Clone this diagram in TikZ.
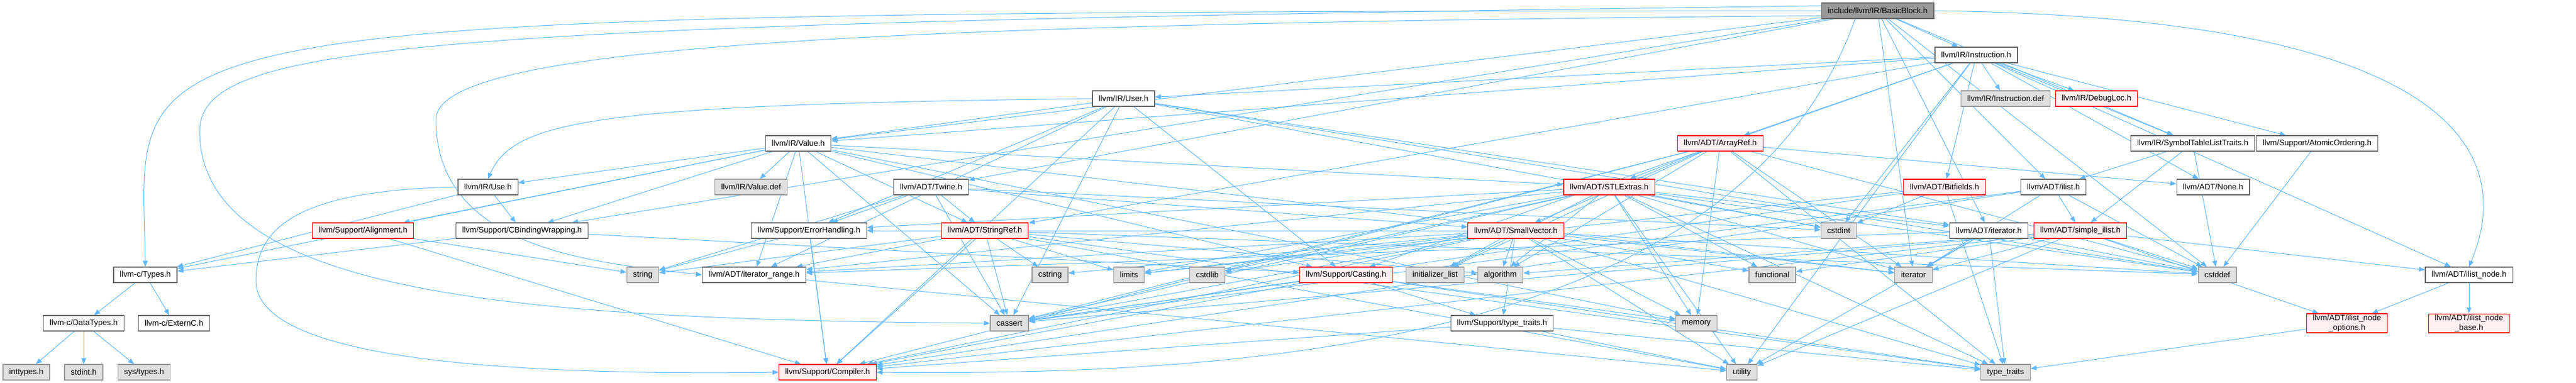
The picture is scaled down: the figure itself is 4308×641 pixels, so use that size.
\documentclass[tikz,border=0pt]{standalone}
\usepackage{fontspec}
\setmainfont{Liberation Sans}
\usetikzlibrary{backgrounds}
\usetikzlibrary{arrows.meta}

\definecolor{edgeblue}{HTML}{63B8FF}
\definecolor{boxgrey}{HTML}{666666}
\definecolor{sysgrey}{HTML}{999999}
\definecolor{sysfill}{HTML}{E0E0E0}
\definecolor{rootfill}{HTML}{999999}
\definecolor{truncfill}{HTML}{FFF0F0}

\begin{document}
\begin{tikzpicture}[x=0.25mm,y=-0.25mm,
		file/.style={draw=boxgrey,fill=white,rectangle,line width=0.3mm,minimum height=6.5mm,inner xsep=2.6mm,inner ysep=0.5mm,align=center,font=\fontsize{9.5}{11}\selectfont},
		sysfile/.style={file,draw=sysgrey,fill=sysfill},
		trunc/.style={file,draw=red,fill=truncfill},
		rootfile/.style={file,fill=rootfill},
		dep/.style={color=edgeblue,line width=0.25mm,-{Triangle[length=2.5mm,width=2mm]}}]
		\useasboundingbox (0,0) rectangle (4308,641);
		% top rows
		\node[rootfile] at (3140,18) (root) {include/llvm/IR/BasicBlock.h};
		\node[file] at (3305,92) (instr) {llvm/IR/Instruction.h};
		\node[file] at (1879,165) (user) {llvm/IR/User.h};
		\node[sysfile] at (3354,165) (instrdef) {llvm/IR/Instruction.def};
		\node[trunc] at (3506,165) (debugloc) {llvm/IR/DebugLoc.h};
		\node[file] at (1335,240) (value) {llvm/IR/Value.h};
		\node[trunc] at (2877,240) (arrayref) {llvm/ADT/ArrayRef.h};
		\node[file] at (3667,240) (symtab) {llvm/IR/SymbolTableListTraits.h};
		\node[file] at (3875,240) (atomic) {llvm/Support/AtomicOrdering.h};
		% middle rows
		\node[file] at (816,313) (use) {llvm/IR/Use.h};
		\node[sysfile] at (1256,313) (valuedef) {llvm/IR/Value.def};
		\node[file] at (1557,313) (twine) {llvm/ADT/Twine.h};
		\node[trunc] at (2691,313) (stlextras) {llvm/ADT/STLExtras.h};
		\node[trunc] at (3252,313) (bitfields) {llvm/ADT/Bitfields.h};
		\node[file] at (3434,313) (ilist) {llvm/ADT/ilist.h};
		\node[file] at (3701,313) (none) {llvm/ADT/None.h};
		\node[trunc] at (607,386) (align) {llvm/Support/Alignment.h};
		\node[file] at (873,386) (cbind) {llvm/Support/CBindingWrapping.h};
		\node[file] at (1353,386) (errh) {llvm/Support/ErrorHandling.h};
		\node[trunc] at (1647,386) (strref) {llvm/ADT/StringRef.h};
		\node[trunc] at (2535,386) (smallvec) {llvm/ADT/SmallVector.h};
		\node[sysfile] at (3075,386) (cstdint) {cstdint};
		\node[file] at (3326,386) (iterh) {llvm/ADT/iterator.h};
		\node[trunc] at (3479,386) (silist) {llvm/ADT/simple\_ilist.h};
		% lower rows
		\node[file] at (243,460) (ctypes) {llvm-c/Types.h};
		\node[sysfile] at (1075,460) (string) {string};
		\node[file] at (1261,460) (itrange) {llvm/ADT/iterator\_range.h};
		\node[sysfile] at (1756,460) (cstring) {cstring};
		\node[sysfile] at (1888,460) (limits) {limits};
		\node[sysfile] at (2019,460) (cstdlib) {cstdlib};
		\node[trunc] at (2251,460) (casting) {llvm/Support/Casting.h};
		\node[sysfile] at (2400,460) (initlist) {initializer\_list};
		\node[sysfile] at (2509,460) (algorithm) {algorithm};
		\node[sysfile] at (2964,460) (functional) {functional};
		\node[sysfile] at (3200,460) (iterator) {iterator};
		\node[sysfile] at (3708,460) (cstddef) {cstddef};
		\node[file] at (4129,460) (ilistnode) {llvm/ADT/ilist\_node.h};
		\node[file] at (140,541) (datatypes) {llvm-c/DataTypes.h};
		\node[file] at (291,541) (externc) {llvm-c/ExternC.h};
		\node[sysfile] at (1688,541) (cassert) {cassert};
		\node[file] at (2512,541) (typetraitsh) {llvm/Support/type\_traits.h};
		\node[sysfile] at (2837,541) (memory) {memory};
		\node[trunc] at (3925,541) (ilnopts) {llvm/ADT/ilist\_node\\\_options.h};
		\node[trunc] at (4129,541) (ilnbase) {llvm/ADT/ilist\_node\\\_base.h};
		\node[sysfile] at (44,623) (inttypes) {inttypes.h};
		\node[sysfile] at (140,623) (stdinth) {stdint.h};
		\node[sysfile] at (241,623) (systypes) {sys/types.h};
		\node[trunc] at (1384,623) (compiler) {llvm/Support/Compiler.h};
		\node[sysfile] at (2913,623) (utility) {utility};
		\node[sysfile] at (3354,623) (typetraits) {type\_traits};
		\begin{scope}[on background layer]
			% long curves
			\draw[dep] (root.west) .. controls (100,20) and (238,35) .. (ctypes.north);
			\draw[dep] (root.175) .. controls (700,40) and (334,70) .. (334,220) .. controls (334,500) and (900,535) .. (cassert.west);
			\draw[dep] (root.185) .. controls (1400,40) and (729,80) .. (729,200) .. controls (729,420) and (1000,440) .. (itrange.west);
			\draw[dep] (use.west) .. controls (500,318) and (428,380) .. (428,470) .. controls (428,610) and (900,628) .. (compiler.west);
			\draw[dep] (root.200) .. controls (2900,600) and (2000,628) .. (compiler.east);
			\draw[dep] (root.east) .. controls (4190,30) and (4190,300) .. (ilistnode.north);
			\draw[dep] (user.west) .. controls (1000,175) and (860,200) .. (use.north);
			\path[dep] (root) edge (twine) edge (ilist) edge (iterh) edge (instr) edge (symtab)
				edge (value) edge (cbind) edge (cstddef) edge (iterator);
			\path[dep] (instr) edge (arrayref) edge (bitfields) edge (none) edge (strref) edge (ilistnode)
				edge (debugloc) edge (symtab) edge (user) edge (value) edge (atomic) edge (casting)
				edge (cstdint) edge (utility) edge (instrdef);
			\path[dep] (user) edge (iterh) edge (itrange) edge (value) edge (casting) edge (compiler)
				edge (errh) edge (cassert) edge (cstddef) edge (cstdint);
			\path[dep] (value) edge (ctypes) edge (stlextras) edge (strref) edge (itrange) edge (use)
				edge (align) edge (cbind) edge (casting) edge (cassert) edge (iterator) edge (memory)
				edge (valuedef) edge (compiler);
			\path[dep] (use) edge (ctypes) edge (cbind);
			\path[dep] (cbind) edge (ctypes) edge (casting);
			\path[dep] (align) edge (string) edge (compiler);
			\path[dep] (twine) edge (smallvec) edge (strref) edge (errh) edge (cassert) edge (cstdint) edge (string);
			\path[dep] (errh) edge (compiler) edge (string);
			\path[dep] (strref) edge (itrange) edge (compiler) edge (algorithm) edge (cassert) edge (cstddef)
				edge (cstring) edge (limits) edge (string) edge (typetraits) edge (utility);
			\path[dep] (itrange) edge (utility);
			\path[dep] (arrayref) edge (none) edge (stlextras) edge (smallvec) edge (compiler) edge (algorithm)
				edge (cassert) edge (cstddef) edge (initlist) edge (iterator) edge (memory) edge (typetraits);
			\path[dep] (stlextras) edge (iterh) edge (itrange) edge (errh) edge (algorithm) edge (cassert)
				edge (cstddef) edge (cstdint) edge (cstdlib) edge (functional) edge (initlist)
				edge (iterator) edge (limits) edge (memory) edge (typetraits) edge (utility);
			\path[dep] (smallvec) edge (itrange) edge (compiler) edge (errh) edge (typetraitsh) edge (algorithm)
				edge (cassert) edge (cstddef) edge (cstdlib) edge (cstring) edge (functional) edge (initlist)
				edge (iterator) edge (limits) edge (memory) edge (typetraits) edge (utility);
			\path[dep] (casting) edge (compiler) edge (typetraitsh) edge (cassert) edge (memory) edge (typetraits);
			\path[dep] (typetraitsh) edge (compiler) edge (typetraits) edge (utility);
			\path[dep] (bitfields) edge (cassert) edge (cstdint) edge (limits) edge (typetraits);
			\path[dep] (ilist) edge (silist) edge (compiler) edge (cassert) edge (cstddef) edge (iterator);
			\path[dep] (silist) edge (ilistnode) edge (ilnopts) edge (compiler) edge (algorithm) edge (cassert)
				edge (cstddef) edge (functional) edge (iterator) edge (utility);
			\path[dep] (iterh) edge (itrange) edge (cstddef) edge (iterator) edge (typetraits) edge (utility);
			\path[dep] (ilistnode) edge (ilnopts) edge (ilnbase);
			\path[dep] (ilnopts) edge (typetraits);
			\path[dep] (symtab) edge (ilist) edge (silist) edge (cstddef);
			\path[dep] (atomic) edge (cstddef);
			\path[dep] (ctypes) edge (datatypes) edge (externc);
			\path[dep] (datatypes) edge (inttypes) edge (stdinth) edge (systypes);
		\end{scope}
	\end{tikzpicture}
\end{document}
